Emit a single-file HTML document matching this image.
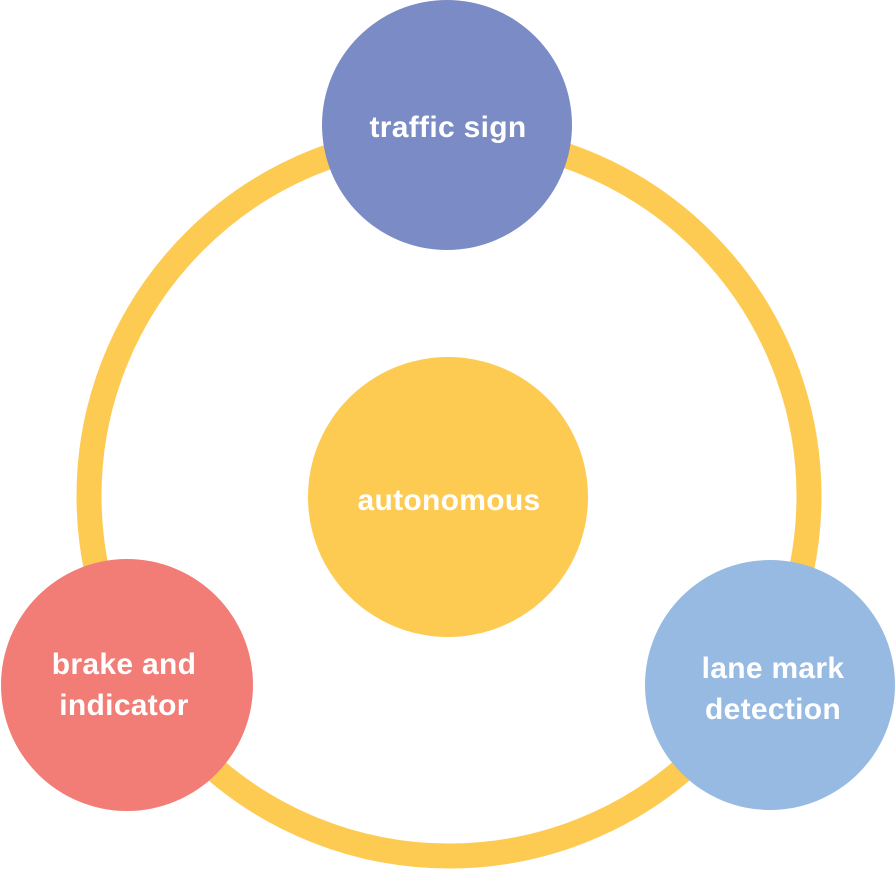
<!DOCTYPE html>
<html><head><meta charset="utf-8"><style>
html,body{margin:0;padding:0;background:#fff;}
svg{display:block;}
text{font-family:"Liberation Sans",sans-serif;font-weight:bold;fill:#fff;font-size:30px;text-anchor:middle;letter-spacing:0.3px;}
</style></head><body>
<svg width="896" height="872" viewBox="0 0 896 872">
<circle cx="449" cy="496" r="360" fill="none" stroke="#FDCB52" stroke-width="25"/>
<circle cx="448" cy="497" r="140" fill="#FDCB52"/>
<circle cx="447" cy="125" r="125" fill="#7B8BC6"/>
<circle cx="127" cy="685" r="126" fill="#F27C76"/>
<circle cx="770" cy="685" r="125" fill="#97BAE2"/>
<text x="448" y="137">traffic sign</text>
<text x="449" y="510">autonomous</text>
<text x="124" y="674">brake and</text>
<text x="124" y="715">indicator</text>
<text x="773" y="678">lane mark</text>
<text x="773" y="719">detection</text>
</svg>
</body></html>
